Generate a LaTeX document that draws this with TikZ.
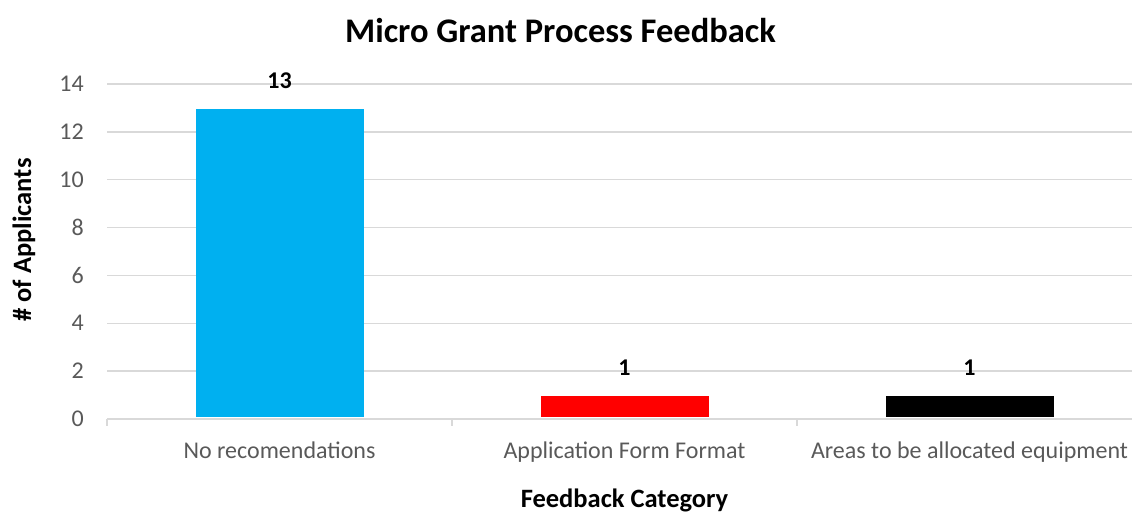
\documentclass[tikz,border=0pt]{standalone}
\usepackage{fontspec}
\setmainfont{Carlito}
\usepackage{tikz}
\usetikzlibrary{positioning}
\definecolor{gridgray}{HTML}{D9D9D9}
\definecolor{ticktext}{HTML}{595959}
\definecolor{barblue}{HTML}{00B0F0}
\definecolor{barred}{HTML}{FF0000}
\tikzset{
	x=1pt, y=-1pt, % one unit is one pixel, y runs downwards
	gridline/.style={draw=gridgray, line width=1.5pt},
	ticklabel/.style={text=ticktext, font=\fontsize{24}{28}\selectfont, anchor=east, inner sep=0pt},
	catlabel/.style={text=ticktext, font=\fontsize{24}{28}\selectfont, anchor=base, inner sep=0pt},
	datalabel/.style={font=\bfseries\fontsize{24}{28}\selectfont, inner sep=0pt},
	axistitle/.style={font=\bfseries\fontsize{26.5}{30}\selectfont, inner sep=0pt},
	bar/.style={draw=none, inner sep=0pt, minimum width=168pt, anchor=south},
}

\begin{document}
\begin{tikzpicture}
		\useasboundingbox (0,0) rectangle (1132,512);

		% title and axis titles
		\node[font=\bfseries\fontsize{34.5}{40}\selectfont, anchor=base, inner sep=0pt] (title) at (560.5,42) {Micro Grant Process Feedback};
		\node[axistitle, anchor=base] (xtitle) at (624.5,507) {Feedback Category};
		\node[axistitle, rotate=90] (ytitle) at (24,240) {\# of Applicants};

		% grid and value axis
		\foreach \v in {0,2,...,14}
		{
			\pgfmathsetmacro{\ypos}{419-\v*23.93}
			\draw[gridline] (107,\ypos) -- (1132,\ypos);
			\node[ticklabel] (tick\v) at (84,\ypos) {\v};
		}
		\foreach \t in {107,452,797}
			\draw[gridline] (\t,419) -- (\t,426);

		% bars, values and categories
		\foreach \val/\col/\cx/\cat [count=\i] in {13/barblue/279.5/No recomendations, 1/barred/624.5/Application Form Format, 1/black/969.5/Areas to be allocated equipment}
		{
			\pgfmathsetmacro{\h}{\val*23.93-3.5}
			\node[bar, fill=\col, minimum height=\h pt] (bar\i) at (\cx,417) {};
			\node[datalabel, above=20pt of bar\i] (val\i) {\val};
			\node[catlabel] (cat\i) at (\cx,458) {\cat};
		}

	\end{tikzpicture}
\end{document}
